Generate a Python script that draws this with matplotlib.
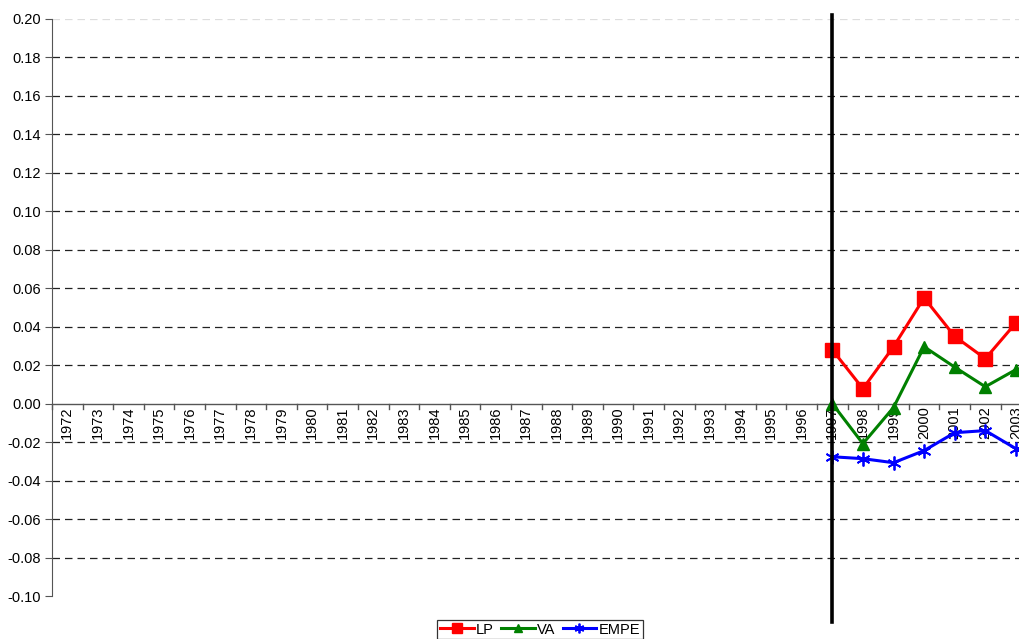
import numpy as np
import matplotlib.pyplot as plt

plt.rcParams["font.family"] = ["Liberation Sans", "DejaVu Sans"]

years = [str(y) for y in range(1972, 2004)]
data_years = ["1997", "1998", "1999", "2000", "2001", "2002", "2003"]
lp = [0.028, 0.0078, 0.0296, 0.055, 0.035, 0.0234, 0.042]
va = [0.0, -0.0208, -0.002, 0.0296, 0.019, 0.0088, 0.0177]
empe = [-0.0276, -0.0286, -0.0307, -0.0244, -0.0151, -0.014, -0.0234]
y_ticks = [-0.10, -0.08, -0.06, -0.04, -0.02, 0.00, 0.02, 0.04, 0.06, 0.08, 0.10,
           0.12, 0.14, 0.16, 0.18, 0.20]
break_year = "1997"

W, H = 1019, 639
fig = plt.figure(figsize=(W / 100, H / 100), dpi=100)
ax = fig.add_axes([52 / W, 43 / H, 979.2 / W, 577 / H])

x = np.arange(len(years))
xd = [years.index(y) for y in data_years]

# grid
for v in y_ticks[1:-1]:
    if abs(v) < 1e-9:
        continue
    ax.axhline(v, color="#222222", lw=0.9, ls=(0, (6, 4)), zorder=1)
ax.axhline(0.20, color="#dddddd", lw=0.9, ls=(0, (6, 4)), zorder=1)

ax.plot(xd, lp, color="#ff0000", lw=2.2, marker="s", ms=9.5, label="LP", zorder=4, clip_on=False)
ax.plot(xd, va, color="#008000", lw=2.2, marker="^", ms=8.5, label="VA", zorder=4, clip_on=False)
ax.plot(xd, empe, color="#0000ff", lw=2.2, marker=(6, 2, 0), ms=10, mew=1.3,
        label="EMPE", zorder=4, clip_on=False)

# vertical break line
bx = years.index(break_year)
ax.plot([bx, bx], [0.202, -0.1135], color="black", lw=2.6, clip_on=False, zorder=5)

ax.set_xlim(-0.5, len(years) - 0.5)
ax.set_ylim(-0.10, 0.20)

for s in ["top", "right", "bottom"]:
    ax.spines[s].set_visible(False)
ax.spines["left"].set_color("#555555")

ax.set_yticks(y_ticks)
ax.set_yticklabels([f"{v:.2f}" for v in y_ticks], fontsize=10.5)
ax.tick_params(axis="y", direction="out", length=5, color="#555555", pad=3)

# x axis at zero
ax.axhline(0, color="#555555", lw=1, zorder=2)
ax.set_xticks([])
for i in range(len(years) + 1):
    ax.plot([i - 0.5, i - 0.5], [0, -0.003], color="#555555", lw=1, zorder=2, clip_on=False)
for i, yr in enumerate(years):
    ax.text(i, -0.0015, yr, rotation=90, ha="center", va="top", fontsize=10.5, zorder=3)

leg = ax.legend(loc="upper center", bbox_to_anchor=((540 - 52) / 979.2, -0.041), ncol=3,
                frameon=True, fancybox=False, fontsize=10.5, handlelength=2.3,
                handletextpad=0.15, columnspacing=0.5, borderpad=0.2,
                borderaxespad=0, markerscale=0.7, edgecolor="black")
leg.get_frame().set_linewidth(0.9)

fig.savefig("out.png", dpi=100)
